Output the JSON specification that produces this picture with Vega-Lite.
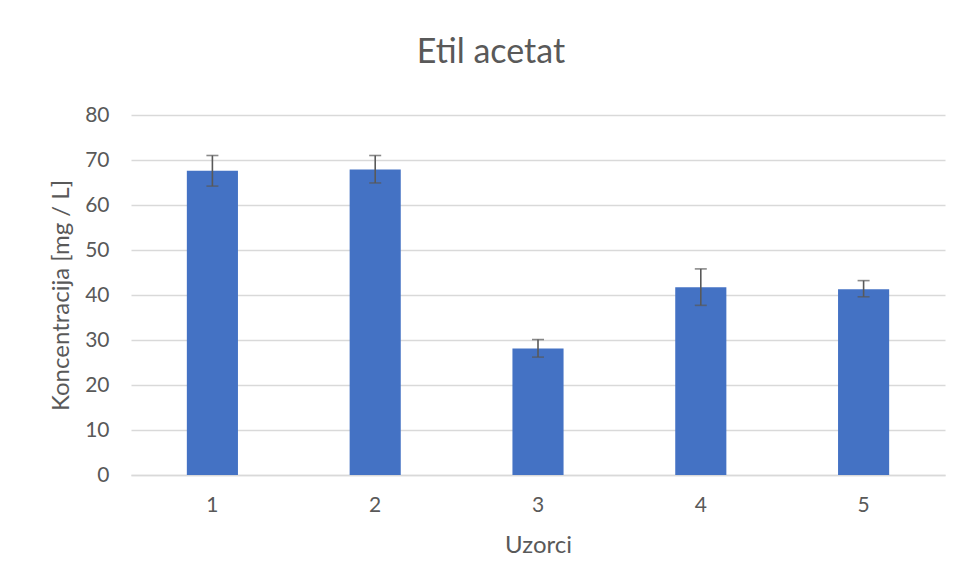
{
  "$schema": "https://vega.github.io/schema/vega-lite/v6.json",
  "width": 814,
  "height": 360,
  "autosize": {"type": "none"},
  "padding": {"left": 131, "top": 115, "right": 16, "bottom": 110},
  "background": "white",
  "title": {
    "text": "Etil acetat",
    "fontSize": 34,
    "font": "Lato",
    "fontWeight": "normal",
    "color": "#595959",
    "anchor": "middle",
    "baseline": "alphabetic",
    "offset": 7,
    "dx": -47
  },
  "data": {
    "values": [
      {"Uzorak": "1", "value": 67.6, "lo": 64.2, "hi": 71.0},
      {"Uzorak": "2", "value": 67.9, "lo": 64.9, "hi": 71.0},
      {"Uzorak": "3", "value": 28.1, "lo": 26.2, "hi": 30.1},
      {"Uzorak": "4", "value": 41.7, "lo": 37.7, "hi": 45.8},
      {"Uzorak": "5", "value": 41.3, "lo": 39.6, "hi": 43.2}
    ]
  },
  "encoding": {
    "x": {
      "field": "Uzorak",
      "type": "nominal",
      "sort": null,
      "scale": {"paddingInner": 0.686, "paddingOuter": 0.343},
      "axis": {
        "title": "Uzorci",
        "labelAngle": 0,
        "labelFont": "Lato",
        "labelFontSize": 21,
        "labelColor": "#595959",
        "labelPadding": 19,
        "titleFont": "Lato",
        "titleFontSize": 24,
        "titleFontWeight": "normal",
        "titleColor": "#595959",
        "titlePadding": 18,
        "ticks": false,
        "domainColor": "#D9D9D9",
        "domainWidth": 1.5,
        "grid": false
      }
    }
  },
  "layer": [
    {
      "mark": {"type": "bar", "color": "#4472C4"},
      "encoding": {
        "y": {
          "field": "value",
          "type": "quantitative",
          "scale": {"domain": [0, 80]},
          "axis": {
            "title": "Koncentracija [mg / L]",
            "values": [0, 10, 20, 30, 40, 50, 60, 70, 80],
            "labelOverlap": false,
            "labelFont": "Lato",
            "labelFontSize": 21,
            "labelColor": "#595959",
            "labelPadding": 22,
            "titleFont": "Lato",
            "titleFontSize": 24,
            "titleFontWeight": "normal",
            "titleColor": "#595959",
            "titlePadding": 11,
            "ticks": false,
            "domain": false,
            "gridColor": "#D9D9D9",
            "gridWidth": 1.5
          }
        }
      }
    },
    {
      "mark": {"type": "rule", "color": "#595959", "strokeWidth": 1.6},
      "encoding": {
        "y": {"field": "lo", "type": "quantitative", "scale": {"domain": [0, 80]},
          "axis": {
            "title": "Koncentracija [mg / L]",
            "values": [0, 10, 20, 30, 40, 50, 60, 70, 80],
            "labelOverlap": false,
            "labelFont": "Lato",
            "labelFontSize": 21,
            "labelColor": "#595959",
            "labelPadding": 22,
            "titleFont": "Lato",
            "titleFontSize": 24,
            "titleFontWeight": "normal",
            "titleColor": "#595959",
            "titlePadding": 11,
            "ticks": false,
            "domain": false,
            "gridColor": "#D9D9D9",
            "gridWidth": 1.5
          }},
        "y2": {"field": "hi"}
      }
    },
    {
      "mark": {"type": "tick", "color": "#595959", "thickness": 1.6, "size": 12, "orient": "horizontal"},
      "encoding": {"y": {"field": "lo", "type": "quantitative", "scale": {"domain": [0, 80]},
          "axis": {
            "title": "Koncentracija [mg / L]",
            "values": [0, 10, 20, 30, 40, 50, 60, 70, 80],
            "labelOverlap": false,
            "labelFont": "Lato",
            "labelFontSize": 21,
            "labelColor": "#595959",
            "labelPadding": 22,
            "titleFont": "Lato",
            "titleFontSize": 24,
            "titleFontWeight": "normal",
            "titleColor": "#595959",
            "titlePadding": 11,
            "ticks": false,
            "domain": false,
            "gridColor": "#D9D9D9",
            "gridWidth": 1.5
          }}}
    },
    {
      "mark": {"type": "tick", "color": "#595959", "thickness": 1.6, "size": 12, "orient": "horizontal"},
      "encoding": {"y": {"field": "hi", "type": "quantitative", "scale": {"domain": [0, 80]},
          "axis": {
            "title": "Koncentracija [mg / L]",
            "values": [0, 10, 20, 30, 40, 50, 60, 70, 80],
            "labelOverlap": false,
            "labelFont": "Lato",
            "labelFontSize": 21,
            "labelColor": "#595959",
            "labelPadding": 22,
            "titleFont": "Lato",
            "titleFontSize": 24,
            "titleFontWeight": "normal",
            "titleColor": "#595959",
            "titlePadding": 11,
            "ticks": false,
            "domain": false,
            "gridColor": "#D9D9D9",
            "gridWidth": 1.5
          }}}
    }
  ],
  "config": {"view": {"stroke": null}}
}
